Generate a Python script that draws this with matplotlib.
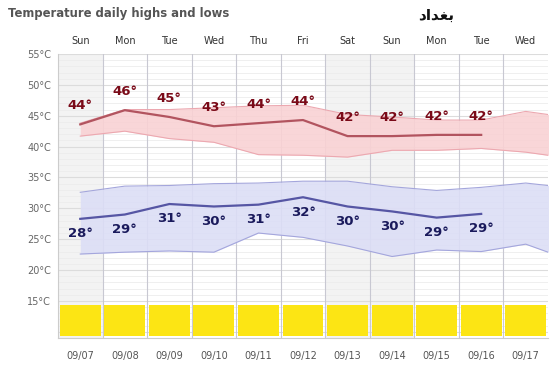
import numpy as np
import matplotlib
matplotlib.use('Agg')
import matplotlib.pyplot as plt
from matplotlib.patches import Rectangle

#%% data
days = ['Sun', 'Mon', 'Tue', 'Wed', 'Thu', 'Fri', 'Sat', 'Sun', 'Mon', 'Tue', 'Wed']
dates = ['09/07', '09/08', '09/09', '09/10', '09/11', '09/12',
         '09/13', '09/14', '09/15', '09/16', '09/17']
weekend = [0, 6, 7]

high_line = [43.6, 45.9, 44.8, 43.3, 43.8, 44.3, 41.7, 41.7, 41.9, 41.9]
high_labels = [44, 46, 45, 43, 44, 44, 42, 42, 42, 42]
low_line = [28.3, 29.0, 30.7, 30.3, 30.6, 31.8, 30.3, 29.5, 28.5, 29.1]
low_labels = [28, 29, 31, 30, 31, 32, 30, 30, 29, 29]

# normal ranges (bands), one value per day incl. the next one (clipped)
high_band_top = [43.8, 46.0, 46.0, 46.3, 46.6, 46.7, 45.2, 44.8, 44.3, 44.3, 45.7, 44.7]
high_band_bot = [41.7, 42.5, 41.3, 40.7, 38.7, 38.6, 38.3, 39.4, 39.4, 39.7, 39.1, 38.1]
low_band_top = [32.6, 33.6, 33.7, 34.0, 34.1, 34.4, 34.4, 33.5, 32.9, 33.4, 34.1, 33.3]
low_band_bot = [22.6, 22.9, 23.1, 22.9, 26.0, 25.3, 23.9, 22.2, 23.25, 23.0, 24.2, 21.6]

yticks = [15, 20, 25, 30, 35, 40, 45, 50, 55]

#%% plot
fig = plt.figure(figsize=(5.5, 3.66), dpi=100)
ax = fig.add_axes([58 / 550, 1 - 338 / 366, 490 / 550, 284 / 366])
ax.set_xlim(-0.5, 10.5)
ax.set_ylim(9.0, 55)

# weekend shading
for d in weekend:
    ax.axvspan(d - 0.5, d + 0.5, color='#f3f3f3', zorder=0, lw=0)

# horizontal grid
for t in np.arange(10, 56, 1):
    if t % 5 == 0:
        ax.axhline(t, color='#dcdcdc', lw=0.8, zorder=1)
    else:
        ax.axhline(t, color='#ececec', lw=0.6, zorder=1)
# column separators
for d in range(1, len(days)):
    ax.axvline(d - 0.5, color='#c8c8d2', lw=0.8, zorder=1)

x = np.arange(len(days))
xb = np.arange(len(high_band_top))
xl = np.arange(len(high_line))

# high band + line
ax.fill_between(xb, high_band_bot, high_band_top, color='#f9d2d4', lw=0, zorder=2, alpha=0.9)
ax.plot(xb, high_band_top, color='#eca8b0', lw=0.8, zorder=3)
ax.plot(xb, high_band_bot, color='#eca8b0', lw=0.8, zorder=3)
ax.plot(xl, high_line, color='#b2545f', lw=1.6, zorder=4)

# low band + line
ax.fill_between(xb, low_band_bot, low_band_top, color='#dcdef6', lw=0, zorder=2, alpha=0.9)
ax.plot(xb, low_band_top, color='#a4a6dc', lw=0.8, zorder=3)
ax.plot(xb, low_band_bot, color='#a4a6dc', lw=0.8, zorder=3)
ax.plot(xl, low_line, color='#5656a4', lw=1.6, zorder=4)

for i in range(len(high_line)):
    ax.text(i, high_line[i] + 3.0, '{}°'.format(high_labels[i]), color='#7a0a18',
            fontsize=9.5, fontweight='bold', ha='center', va='center', zorder=6)
    ax.text(i, low_line[i] - 2.4, '{}°'.format(low_labels[i]), color='#1a1a5c',
            fontsize=9.5, fontweight='bold', ha='center', va='center', zorder=6)

# yellow condition bars
for i in range(len(days)):
    ax.add_patch(Rectangle((i - 0.46, 9.3), 0.92, 5.1, facecolor='#fce514',
                           edgecolor='none', zorder=5))

ax.set_yticks(yticks)
ax.set_yticklabels(['{}°C'.format(t) for t in yticks], color='#666666', fontsize=7)
ax.tick_params(axis='y', length=0, pad=5)
ax.set_xticks(x)
ax.set_xticklabels(dates, color='#555555', fontsize=7)
ax.tick_params(axis='x', length=0, pad=9)

ax_top = ax.secondary_xaxis('top')
ax_top.set_xticks(x)
ax_top.set_xticklabels(days, color='#333333', fontsize=7)
ax_top.tick_params(length=0, pad=6)
ax_top.spines['top'].set_visible(False)

for s in ['top', 'right']:
    ax.spines[s].set_visible(False)
ax.spines['left'].set_color('#cccccc')
ax.spines['bottom'].set_color('#cccccc')
ax.spines['left'].set_linewidth(0.8)
ax.spines['bottom'].set_linewidth(0.8)

fig.text(8 / 550, 1 - 13 / 366, 'Temperature daily highs and lows', color='#555555',
         fontsize=8.4, fontweight='bold', ha='left', va='center')
# city name (Arabic presentation forms so that it shows joined, right-to-left)
fig.text(436 / 550, 1 - 15 / 366, '\uFEA9\uFE8D\uFEAA\uFED0\uFE91', color='#111111',
         fontsize=11, fontweight='bold', ha='center', va='center',
         family=['DejaVu Sans'])

fig.savefig('out.png', dpi=100)
